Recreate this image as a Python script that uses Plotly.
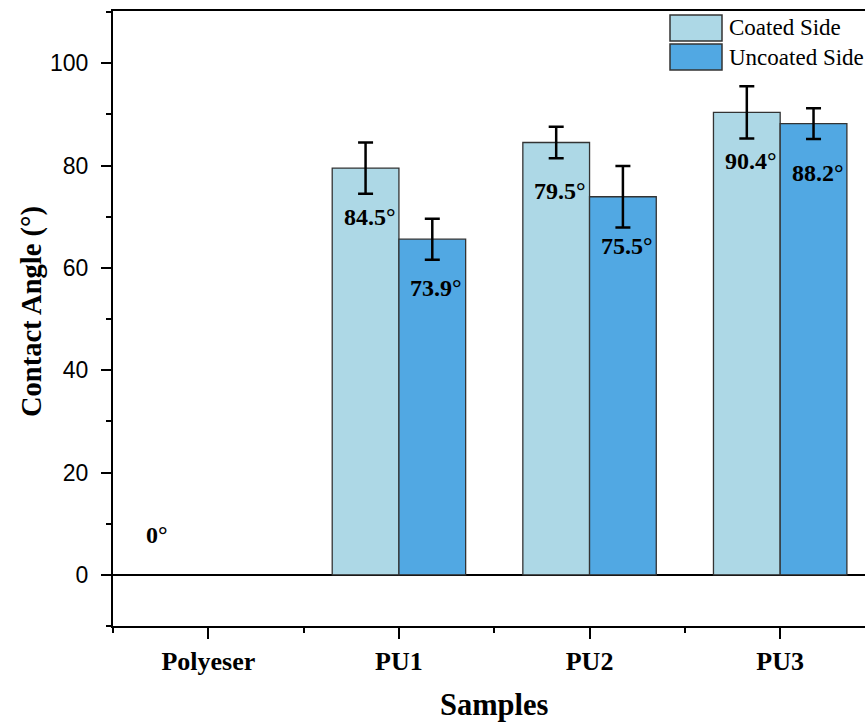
import plotly.graph_objects as go

# ---- data ----
categories = ["Polyeser", "PU1", "PU2", "PU3"]
coated = [0, 79.5, 84.5, 90.4]
uncoated = [0, 65.6, 73.9, 88.2]
coated_err = [0, 5.0, 3.1, 5.1]
uncoated_err = [0, 4.0, 6.0, 3.0]
coated_labels = ["", "84.5°", "79.5°", "90.4°"]
uncoated_labels = ["", "73.9°", "75.5°", "88.2°"]
zero_label = "0°"
series_names = ["Coated Side", "Uncoated Side"]
y_ticks = [0, 20, 40, 60, 80, 100]
x_title = "Samples"
y_title = "Contact Angle (°)"

W, H = 865, 724
ML, MR, MT, MB = 113, 0, 11, 98
PW, PH = W - ML - MR, H - MT - MB

C_COATED = "#ADD8E6"
C_UNCOATED = "#51A8E3"
EDGE = "#333333"
SERIF = "Liberation Serif"
SANS = "Liberation Sans"

xpos = list(range(len(categories)))


def nz(vals, ref):
    return [v if r != 0 else None for v, r in zip(vals, ref)]


def px_x(px):
    return (px - ML) / PW


def px_y(py):
    return (H - MB - py) / PH


fig = go.Figure()
for name, vals, errs, col in [
    (series_names[0], coated, coated_err, C_COATED),
    (series_names[1], uncoated, uncoated_err, C_UNCOATED),
]:
    fig.add_trace(go.Bar(
        x=xpos, y=nz(vals, vals), name=name,
        marker=dict(color=col, line=dict(color=EDGE, width=1.3)),
        error_y=dict(type="data", array=nz(errs, vals), visible=True,
                     color="black", thickness=2.5, width=7.5),
        showlegend=False,
    ))

# value labels
annotations = []
for i, x in enumerate(xpos):
    for off, vals, labs in [(-0.175, coated, coated_labels), (0.175, uncoated, uncoated_labels)]:
        if labs[i]:
            annotations.append(dict(
                x=x + off, y=vals[i], xref="x", yref="y", text="<b>%s</b>" % labs[i],
                showarrow=False, yshift=-49, xshift=4, yanchor="middle",
                font=dict(family=SERIF, size=24, color="black")))
annotations.append(dict(x=-0.267, y=7.8, xref="x", yref="y", text="<b>%s</b>" % zero_label,
                        showarrow=False, font=dict(family=SERIF, size=24, color="black")))

# axis titles
annotations.append(dict(xref="paper", yref="paper", x=px_x(494), y=px_y(705),
                        xanchor="center", yanchor="middle", showarrow=False,
                        text="<b>%s</b>" % x_title,
                        font=dict(family=SERIF, size=30.5, color="black")))
annotations.append(dict(xref="paper", yref="paper", x=px_x(32), y=px_y(312),
                        xanchor="center", yanchor="middle", showarrow=False, textangle=-90,
                        text="<b>%s</b>" % y_title,
                        font=dict(family=SERIF, size=28.5, color="black")))

# manual legend
shapes = []
for (y0, y1, col), name in zip([(15, 41, C_COATED), (44, 70, C_UNCOATED)], series_names):
    shapes.append(dict(type="rect", xref="paper", yref="paper",
                       x0=px_x(670), x1=px_x(722), y0=px_y(y1), y1=px_y(y0),
                       fillcolor=col, line=dict(color=EDGE, width=1.5), layer="above"))
    annotations.append(dict(xref="paper", yref="paper", x=px_x(727), y=px_y((y0 + y1) / 2),
                            xanchor="left", yanchor="middle", text=name, showarrow=False,
                            font=dict(family=SERIF, size=23, color="black")))

fig.update_layout(
    width=W, height=H,
    margin=dict(l=ML, r=MR, t=MT, b=MB, pad=0),
    paper_bgcolor="white", plot_bgcolor="white",
    barmode="group", bargap=0.3, bargroupgap=0,
    annotations=annotations, shapes=shapes,
    showlegend=False,
)
fig.update_xaxes(
    range=[-0.5, 3.445], tickmode="array", tickvals=xpos,
    ticktext=["<b>%s</b>" % c for c in categories],
    tickfont=dict(family=SERIF, size=26, color="black"),
    ticks="outside", ticklen=11, tickwidth=2, tickcolor="black",
    minor=dict(tickmode="array", tickvals=[x + 0.5 for x in [-1] + xpos],
               ticks="outside", ticklen=5, tickwidth=2, tickcolor="black"),
    showline=True, linecolor="black", linewidth=2, mirror=True,
    showgrid=False, zeroline=False,
)
fig.update_yaxes(
    range=[-10, 110.2], tickmode="array", tickvals=y_ticks,
    tickfont=dict(family=SANS, size=23, color="black"),
    ticks="outside", ticklen=10, tickwidth=2, tickcolor="black",
    minor=dict(dtick=10, tick0=0, ticks="outside", ticklen=5, tickwidth=2, tickcolor="black"),
    showline=True, linecolor="black", linewidth=2, mirror=False,
    showgrid=False, zeroline=True, zerolinecolor="black", zerolinewidth=2,
    ticklabelstandoff=8,
)

fig.write_html("out.html")
